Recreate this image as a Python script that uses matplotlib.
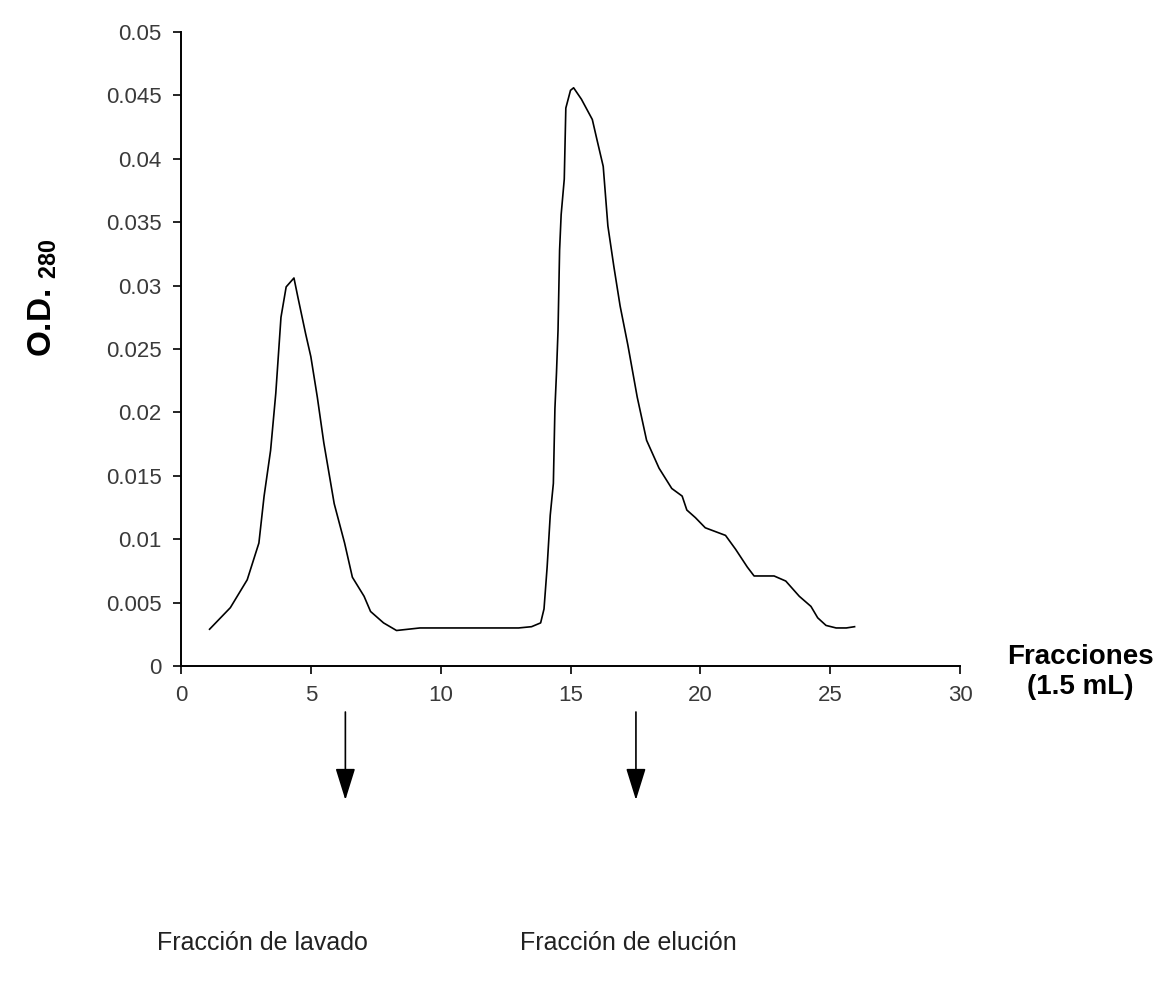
import matplotlib
matplotlib.use("Agg")
import matplotlib.pyplot as plt

fracciones = [1.1, 1.9, 2.55, 3.0, 3.2, 3.45, 3.65, 3.85, 4.05, 4.35,
              4.5, 4.8, 5.0, 5.25, 5.5, 5.9, 6.3, 6.6, 7.05, 7.3,
              7.8, 8.3, 9.2, 10.5, 12.0, 13.0, 13.5, 13.85, 13.98, 14.1,
              14.22, 14.34, 14.4, 14.46, 14.52, 14.58, 14.64, 14.76, 14.82, 15.0,
              15.12, 15.42, 15.84, 16.02, 16.26, 16.44, 16.67, 16.91, 17.21, 17.57,
              17.93, 18.41, 18.9, 19.3, 19.48, 19.81, 20.19, 20.58, 20.97, 21.36,
              21.81, 22.07, 22.39, 22.84, 23.29, 23.81, 24.26, 24.52, 24.84, 25.23,
              25.62, 25.94]
od280 = [0.0029, 0.0046, 0.0068, 0.0097, 0.0134, 0.0170, 0.0215, 0.0275, 0.0299, 0.0306,
         0.0291, 0.0262, 0.0244, 0.0212, 0.0176, 0.0128, 0.0097, 0.0070, 0.0055, 0.0043,
         0.0034, 0.0028, 0.0030, 0.0030, 0.0030, 0.0030, 0.0031, 0.0034, 0.0045, 0.0078,
         0.0119, 0.0144, 0.0203, 0.0231, 0.0265, 0.0328, 0.0356, 0.0384, 0.0440, 0.0454,
         0.0456, 0.0447, 0.0431, 0.0415, 0.0394, 0.0347, 0.0315, 0.0284, 0.0253, 0.0212,
         0.0178, 0.0156, 0.0140, 0.0134, 0.0123, 0.0117, 0.0109, 0.0106, 0.0103, 0.0092,
         0.0078, 0.0071, 0.0071, 0.0071, 0.0067, 0.0055, 0.0047, 0.0038, 0.0032, 0.0030,
         0.0030, 0.0031]

x_ticks = [0, 5, 10, 15, 20, 25, 30]
y_ticks = [0, 0.005, 0.01, 0.015, 0.02, 0.025, 0.03, 0.035, 0.04, 0.045, 0.05]
y_tick_labels = ["0", "0.005", "0.01", "0.015", "0.02", "0.025",
                 "0.03", "0.035", "0.04", "0.045", "0.05"]

# flechas y etiquetas de fracciones recogidas
arrow_x = [6.33, 17.52]
arrow_labels = ["Fracción de lavado", "Fracción de elución"]
label_px = [262, 628]

W, H = 1167, 988
plt.rcParams['font.family'] = ['Liberation Sans', 'DejaVu Sans']
plt.rcParams['mathtext.fontset'] = 'custom'
plt.rcParams['mathtext.bf'] = 'Liberation Sans:bold'
plt.rcParams['mathtext.rm'] = 'Liberation Sans:bold'

fig = plt.figure(figsize=(W / 100, H / 100), dpi=100)
ax = fig.add_axes([181 / W, 1 - 666 / H, (960 - 181) / W, (666 - 32) / H])

ax.plot(fracciones, od280, color='black', linewidth=1.2)

ax.set_xlim(0, 30)
ax.set_ylim(0, 0.05)
ax.set_xticks(x_ticks)
ax.set_yticks(y_ticks)
ax.set_yticklabels(y_tick_labels)
ax.spines['top'].set_visible(False)
ax.spines['right'].set_visible(False)
for s in ['left', 'bottom']:
    ax.spines[s].set_linewidth(1.4)
ax.tick_params(direction='out', length=6, width=1.2, labelsize=16,
               labelcolor='#3a3a3a', pad=8)

ax.set_ylabel(r'O.D. $\mathbf{_{280}}$', fontsize=24, fontweight='bold')
ax.yaxis.set_label_coords(-0.157, 0.58)

fig.text(1080 / W, 1 - 672 / H, "Fracciones\n(1.5 mL)", ha='center', va='center',
         fontsize=20, fontweight='bold', linespacing=1.25)

for x, lab, lx in zip(arrow_x, arrow_labels, label_px):
    ax.annotate('', xy=(x, H - 800), xytext=(x, H - 712),
                xycoords=('data', 'figure pixels'), textcoords=('data', 'figure pixels'),
                arrowprops=dict(arrowstyle='-|>,head_length=0.9,head_width=0.28',
                                mutation_scale=22, lw=1.2, color='black',
                                shrinkA=0, shrinkB=0),
                annotation_clip=False)
    fig.text(lx / W, 1 - 943 / H, lab, ha='center', va='center',
             fontsize=18, color='#222222')

fig.savefig('out.png', dpi=100, facecolor='white')
